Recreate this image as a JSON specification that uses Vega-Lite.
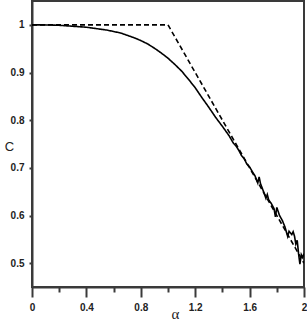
{
  "$schema": "https://vega.github.io/schema/vega-lite/v6.json",
  "width": 272,
  "height": 286,
  "autosize": {"type": "none"},
  "padding": {"left": 32, "top": 1, "right": 3, "bottom": 45},
  "background": "white",
  "config": {
    "view": {"stroke": "#3a3a3a", "strokeWidth": 2},
    "axis": {"grid": false, "domainColor": "#3a3a3a", "domainWidth": 2, "tickColor": "#3a3a3a", "tickWidth": 2,
             "labelFont": "Liberation Sans", "labelFontWeight": "bold", "labelFontSize": 10, "labelColor": "#222"}
  },
  "datasets": {
    "curves": [
      {"a": 0, "c": 1.0, "s": "sim"},
      {"a": 0.05, "c": 1.0, "s": "sim"},
      {"a": 0.1, "c": 0.9998, "s": "sim"},
      {"a": 0.15, "c": 0.9995, "s": "sim"},
      {"a": 0.2, "c": 0.999, "s": "sim"},
      {"a": 0.25, "c": 0.998, "s": "sim"},
      {"a": 0.3, "c": 0.997, "s": "sim"},
      {"a": 0.35, "c": 0.996, "s": "sim"},
      {"a": 0.4, "c": 0.995, "s": "sim"},
      {"a": 0.45, "c": 0.993, "s": "sim"},
      {"a": 0.5, "c": 0.991, "s": "sim"},
      {"a": 0.55, "c": 0.989, "s": "sim"},
      {"a": 0.6, "c": 0.986, "s": "sim"},
      {"a": 0.65, "c": 0.983, "s": "sim"},
      {"a": 0.7, "c": 0.978, "s": "sim"},
      {"a": 0.75, "c": 0.973, "s": "sim"},
      {"a": 0.8, "c": 0.967, "s": "sim"},
      {"a": 0.85, "c": 0.96, "s": "sim"},
      {"a": 0.9, "c": 0.951, "s": "sim"},
      {"a": 0.95, "c": 0.941, "s": "sim"},
      {"a": 1.0, "c": 0.93, "s": "sim"},
      {"a": 1.05, "c": 0.917, "s": "sim"},
      {"a": 1.1, "c": 0.903, "s": "sim"},
      {"a": 1.15, "c": 0.886, "s": "sim"},
      {"a": 1.2, "c": 0.868, "s": "sim"},
      {"a": 1.25, "c": 0.847, "s": "sim"},
      {"a": 1.3, "c": 0.827, "s": "sim"},
      {"a": 1.35, "c": 0.806, "s": "sim"},
      {"a": 1.4, "c": 0.787, "s": "sim"},
      {"a": 1.45, "c": 0.767, "s": "sim"},
      {"a": 1.48, "c": 0.752, "s": "sim"},
      {"a": 1.5, "c": 0.746, "s": "sim"},
      {"a": 1.52, "c": 0.737, "s": "sim"},
      {"a": 1.54, "c": 0.726, "s": "sim"},
      {"a": 1.56, "c": 0.719, "s": "sim"},
      {"a": 1.58, "c": 0.708, "s": "sim"},
      {"a": 1.6, "c": 0.702, "s": "sim"},
      {"a": 1.62, "c": 0.692, "s": "sim"},
      {"a": 1.64, "c": 0.683, "s": "sim"},
      {"a": 1.66, "c": 0.668, "s": "sim"},
      {"a": 1.67, "c": 0.681, "s": "sim"},
      {"a": 1.68, "c": 0.667, "s": "sim"},
      {"a": 1.7, "c": 0.652, "s": "sim"},
      {"a": 1.72, "c": 0.636, "s": "sim"},
      {"a": 1.73, "c": 0.644, "s": "sim"},
      {"a": 1.74, "c": 0.633, "s": "sim"},
      {"a": 1.76, "c": 0.625, "s": "sim"},
      {"a": 1.78, "c": 0.614, "s": "sim"},
      {"a": 1.79, "c": 0.597, "s": "sim"},
      {"a": 1.8, "c": 0.617, "s": "sim"},
      {"a": 1.82, "c": 0.6, "s": "sim"},
      {"a": 1.84, "c": 0.59, "s": "sim"},
      {"a": 1.86, "c": 0.576, "s": "sim"},
      {"a": 1.88, "c": 0.556, "s": "sim"},
      {"a": 1.89, "c": 0.567, "s": "sim"},
      {"a": 1.91, "c": 0.56, "s": "sim"},
      {"a": 1.92, "c": 0.566, "s": "sim"},
      {"a": 1.93, "c": 0.557, "s": "sim"},
      {"a": 1.94, "c": 0.54, "s": "sim"},
      {"a": 1.95, "c": 0.548, "s": "sim"},
      {"a": 1.96, "c": 0.52, "s": "sim"},
      {"a": 1.97, "c": 0.498, "s": "sim"},
      {"a": 1.98, "c": 0.518, "s": "sim"},
      {"a": 1.99, "c": 0.512, "s": "sim"},
      {"a": 2.0, "c": 0.52, "s": "sim"},
      {"a": 0, "c": 1.0, "s": "theory"},
      {"a": 1.0, "c": 1.0, "s": "theory"},
      {"a": 2.0, "c": 0.5, "s": "theory"}
    ]
  },
  "data": {"name": "curves"},
  "mark": {"type": "line", "strokeWidth": 1.6, "color": "black", "clip": true},
  "encoding": {
    "x": {
      "field": "a", "type": "quantitative",
      "scale": {"domain": [0, 2], "nice": false, "zero": false},
      "axis": {
        "values": [0, 0.2, 0.4, 0.6, 0.8, 1.0, 1.2, 1.4, 1.6, 1.8, 2.0],
        "labelExpr": "abs(datum.value/0.4 - round(datum.value/0.4)) < 0.01 ? format(datum.value, '~g') : ''",
        "tickSize": {"condition": {"test": "abs(datum.value/0.4 - round(datum.value/0.4)) < 0.01", "value": 10}, "value": 5},
        "labelPadding": 5,
        "labelFlush": false,
        "title": "α",
        "titleFont": "Liberation Serif",
        "titleFontSize": 15,
        "titleFontWeight": "normal",
        "titleColor": "#222",
        "titleX": 143,
        "titleY": 26,
        "titleAnchor": null,
        "titleBaseline": "middle",
        "titleAlign": "center"
      }
    },
    "y": {
      "field": "c", "type": "quantitative",
      "scale": {"domain": [0.45, 1.05], "nice": false, "zero": false},
      "axis": {
        "values": [0.5, 0.6, 0.7, 0.8, 0.9, 1.0],
        "format": "~g",
        "tickSize": 3,
        "labelPadding": 5,
        "labelFlush": false,
        "title": "C",
        "titleFont": "Liberation Sans",
        "titleFontSize": 13,
        "titleFontWeight": "normal",
        "titleColor": "#222",
        "titleAngle": 0,
        "titleX": -23,
        "titleY": 145,
        "titleAlign": "center",
        "titleBaseline": "middle"
      }
    },
    "strokeDash": {
      "field": "s", "type": "nominal",
      "scale": {"domain": ["sim", "theory"], "range": [[1, 0], [5, 3]]},
      "legend": null
    }
  }
}
